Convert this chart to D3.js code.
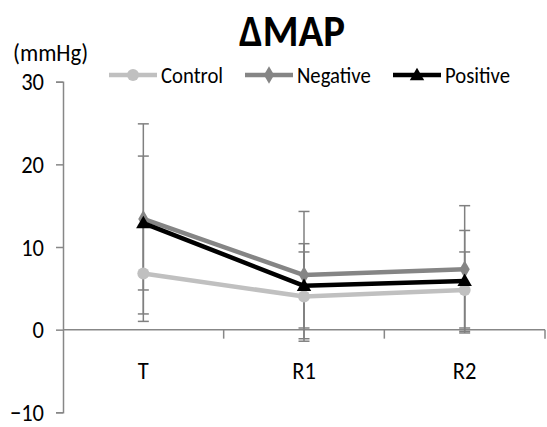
<!DOCTYPE html>
<html lang="en">
<head>
<meta charset="UTF-8">
<title>ΔMAP</title>
<script src="https://d3js.org/d3.v7.min.js"></script>
<style>
  body { margin: 0; background: #fff; }
  svg text { font-family: Calibri, Carlito, Lato, sans-serif; fill: #000; }
</style>
</head>
<body>
<div id="chart"></div>
<script>
    // chart values
    const categories = ["T", "R1", "R2"];
    const seriesNames = ["Control", "Negative", "Positive"];
    const controlMean = [6.8, 4.0, 4.8];
    const controlSD = [5.8, 5.4, 4.6];
    const negativeMean = [13.4, 6.6, 7.3];
    const negativeSD = [11.5, 7.7, 7.7];
    const positiveMean = [12.9, 5.3, 5.9];
    const positiveSD = [8.1, 5.1, 6.1];
    const yTicks = [-10, 0, 10, 20, 30];

    const width = 547, height = 427;
    const margin = { top: 82, right: 2, bottom: 15, left: 63 };

    const svg = d3.select("#chart").append("svg")
        .attr("width", width)
        .attr("height", height);

    // squeeze text horizontally a bit, the original font is narrower
    function condense(sel, k) {
        sel.each(function () {
            const w = this.getComputedTextLength();
            d3.select(this).attr("textLength", w * k).attr("lengthAdjust", "spacingAndGlyphs");
        });
    }

    const x = d3.scaleBand()
        .domain(categories)
        .range([margin.left, width - margin.right]);

    const y = d3.scaleLinear()
        .domain([-10, 30])
        .range([412.3, 81.7]);

    const series = [
        { name: seriesNames[0], mean: controlMean, sd: controlSD, color: "#c0c0c0", marker: "circle" },
        { name: seriesNames[1], mean: negativeMean, sd: negativeSD, color: "#858585", marker: "diamond" },
        { name: seriesNames[2], mean: positiveMean, sd: positiveSD, color: "#000000", marker: "triangle" }
    ];

    const axisColor = "#878787";

    // y axis
    const yAxis = svg.append("g")
        .attr("transform", `translate(${margin.left},0)`)
        .call(d3.axisLeft(y).tickValues(yTicks).tickSize(7).tickPadding(12));
    yAxis.select(".domain").attr("stroke", axisColor).attr("stroke-width", 1.5);
    yAxis.selectAll(".tick line").attr("stroke", axisColor).attr("stroke-width", 1.5);
    yAxis.selectAll(".tick text")
        .style("font-size", "25px")
        .style("font-family", "Calibri, Carlito, Lato, sans-serif")
        .attr("fill", "#000")
        .call(condense, 0.9);

    // x axis at zero, ticks between categories
    const xAxisG = svg.append("g");
    xAxisG.append("line")
        .attr("x1", margin.left).attr("x2", width - margin.right)
        .attr("y1", y(0)).attr("y2", y(0))
        .attr("stroke", axisColor).attr("stroke-width", 1.5);
    const boundaries = categories.map(c => x(c) + x.bandwidth());
    xAxisG.selectAll("line.tk")
        .data(boundaries)
        .enter().append("line")
        .attr("class", "tk")
        .attr("x1", d => d).attr("x2", d => d)
        .attr("y1", y(0)).attr("y2", y(0) + 9)
        .attr("stroke", axisColor).attr("stroke-width", 1.5);
    xAxisG.selectAll("text")
        .data(categories)
        .enter().append("text")
        .attr("x", d => x(d) + x.bandwidth() / 2)
        .attr("y", 379)
        .attr("text-anchor", "middle")
        .style("font-size", "25px")
        .text(d => d)
        .call(condense, 0.9);

    const cx = c => x(c) + x.bandwidth() / 2;

    // error bars
    const capW = 5.5;
    series.forEach(s => {
        const g = svg.append("g");
        categories.forEach((c, i) => {
            const lo = y(s.mean[i] - s.sd[i]), hi = y(s.mean[i] + s.sd[i]);
            g.append("line").attr("x1", cx(c)).attr("x2", cx(c)).attr("y1", lo).attr("y2", hi)
                .attr("stroke", "#808080").attr("stroke-width", 1.5);
            [lo, hi].forEach(v => g.append("line")
                .attr("x1", cx(c) - capW).attr("x2", cx(c) + capW)
                .attr("y1", v).attr("y2", v)
                .attr("stroke", "#808080").attr("stroke-width", 1.5));
        });
    });

    const line = d3.line().x((d, i) => cx(categories[i])).y(d => y(d));

    function drawMarker(g, type, px, py, color) {
        if (type === "circle") {
            g.append("circle").attr("cx", px).attr("cy", py).attr("r", 6).attr("fill", color);
        } else if (type === "diamond") {
            g.append("path").attr("d", d3.symbol(d3.symbolDiamond, 90)()).attr("transform", `translate(${px},${py})`).attr("fill", color);
        } else {
            g.append("path").attr("d", d3.symbol(d3.symbolTriangle, 90)()).attr("transform", `translate(${px},${py + 1})`).attr("fill", color);
        }
    }

    // series lines and markers
    series.forEach(s => {
        const g = svg.append("g");
        g.append("path")
            .datum(s.mean)
            .attr("d", line)
            .attr("fill", "none")
            .attr("stroke", s.color)
            .attr("stroke-width", 4.5)
            .attr("stroke-linejoin", "round");
        s.mean.forEach((v, i) => drawMarker(g, s.marker, cx(categories[i]), y(v), s.color));
    });

    // title
    svg.append("text")
        .attr("x", 292).attr("y", 46)
        .attr("text-anchor", "middle")
        .attr("textLength", 106)
        .attr("lengthAdjust", "spacingAndGlyphs")
        .style("font-size", "45px")
        .style("font-weight", "bold")
        .text("ΔMAP");

    // unit label
    svg.append("text")
        .attr("x", 13).attr("y", 61)
        .style("font-size", "24px")
        .text("(mmHg)")
        .call(condense, 0.95);

    // legend
    const legendX = [109, 245, 393];
    const legend = svg.append("g");
    series.forEach((s, i) => {
        const lx = legendX[i], ly = 75;
        legend.append("line")
            .attr("x1", lx).attr("x2", lx + 48)
            .attr("y1", ly).attr("y2", ly)
            .attr("stroke", s.color).attr("stroke-width", 4.5);
        drawMarker(legend, s.marker, lx + 24, ly, s.color);
        legend.append("text")
            .attr("x", lx + 52).attr("y", ly + 8)
            .style("font-size", "23px")
            .text(s.name)
            .call(condense, 0.9);
    });
</script>
</body>
</html>
